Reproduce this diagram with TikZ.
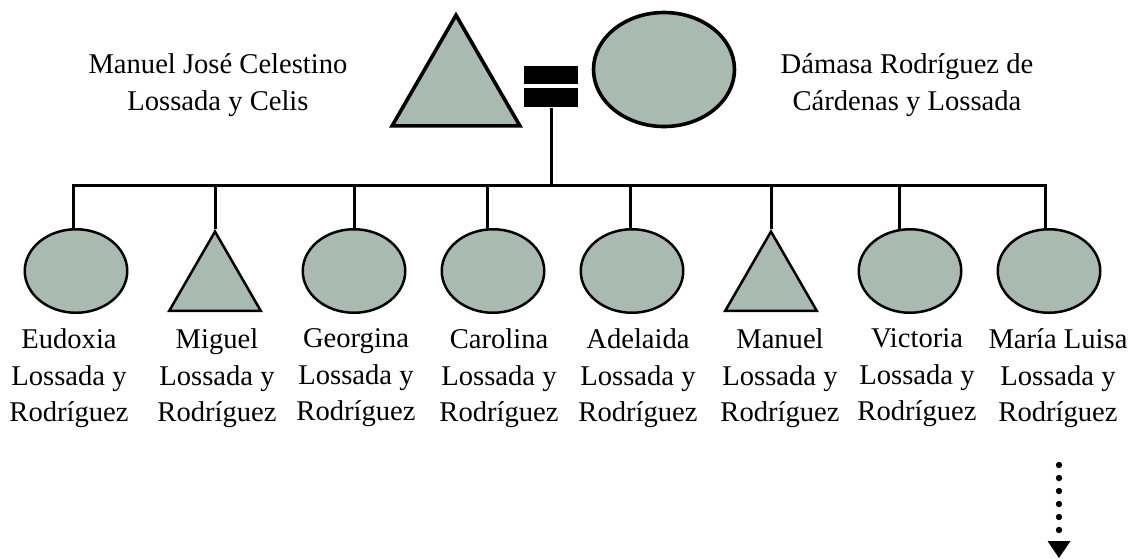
\documentclass[tikz,border=0pt]{standalone}
\usepackage{fontspec}
\setmainfont{Liberation Serif}
\usepackage{tikz}
\usetikzlibrary{arrows.meta, shapes.geometric}
\definecolor{kingreen}{HTML}{A9BAB0}

\begin{document}
\begin{tikzpicture}[x=0.5pt, y=-0.5pt,
    female/.style={ellipse, draw, fill=kingreen, line width=1.25pt, inner sep=0pt,
        minimum width=51.25pt, minimum height=41.75pt},
    male/.style={regular polygon, regular polygon sides=3, draw, fill=kingreen,
        line width=1.25pt, inner sep=0pt, minimum size=52.95pt},
    kinname/.style={align=center, anchor=north, inner sep=0pt,
        font=\fontsize{14.3}{18.25}\selectfont, execute at begin node=\strut},
    link/.style={line width=1.5pt}]
    \useasboundingbox (0,0) rectangle (1130,559);

    % Parents
    \node[male, line width=1.8pt, minimum size=73.8pt] (father) at (456,89) {};
    \node[female, line width=1.8pt, minimum width=70.5pt, minimum height=57pt] (mother) at (664,69.5) {};
    \node[kinname] (fathername) at (218,53.4) {Manuel José Celestino\\Lossada y Celis};
    \node[kinname] (mothername) at (907,53.4) {Dámasa Rodríguez de\\Cárdenas y Lossada};

    % Marriage
    \node[fill, inner sep=0pt, minimum width=27pt, minimum height=9.2pt] (marrtop) at (551,75.2) {};
    \node[fill, inner sep=0pt, minimum width=27pt, minimum height=9.5pt] (marriage) at (551,97.8) {};
    \coordinate (sib) at (550,185);
    \draw[link] (marriage.south) -- (marriage.south |- sib);

    % Children
    \node[female] (c1) at (76,271) {};
    \node[male]   (c2) at (215,284.5) {};
    \node[female] (c3) at (354,271) {};
    \node[female] (c4) at (493,271) {};
    \node[female] (c5) at (632,271) {};
    \node[male]   (c6) at (771,284.5) {};
    \node[female] (c7) at (910,271) {};
    \node[female] (c8) at (1049,271) {};

    % Sibship line
    \draw[link] (c1.94) -- (c1.94 |- sib) -- (c8.95 |- sib) -- (c8.95);
    \draw[link] (c2.north) -- (c2.north |- sib);
    \draw[link] (c3.north) -- (c3.north |- sib);
    \draw[link] (c4.98) -- (c4.98 |- sib);
    \draw[link] (c5.92) -- (c5.92 |- sib);
    \draw[link] (c6.north) -- (c6.north |- sib);
    \draw[link] (c7.104) -- (c7.104 |- sib);

    % Names
    \node[kinname] (n1) at (69,328.4) {Eudoxia\\Lossada y\\Rodríguez};
    \node[kinname] (n2) at (217,328.4) {Miguel\\Lossada y\\Rodríguez};
    \node[kinname] (n3) at (356,328.4) {Georgina\\Lossada y\\Rodríguez};
    \node[kinname] (n4) at (499,328.4) {Carolina\\Lossada y\\Rodríguez};
    \node[kinname] (n5) at (638,328.4) {Adelaida\\Lossada y\\Rodríguez};
    \node[kinname] (n6) at (780,328.4) {Manuel\\Lossada y\\Rodríguez};
    \node[kinname] (n7) at (917,328.4) {Victoria\\Lossada y\\Rodríguez};
    \node[kinname] (n8) at (1058,328.4) {María Luisa\\Lossada y\\Rodríguez};

    % Descendants
    \coordinate (desc) at (1059,465);
    \coordinate (descend) at (1059,558);
    \draw[line width=3.2pt, line cap=round, dash pattern=on 0pt off 6.5pt,
        -{Triangle[width=11.5pt, length=8.5pt, line width=0pt]}] (desc) -- (descend);
\end{tikzpicture}
\end{document}
